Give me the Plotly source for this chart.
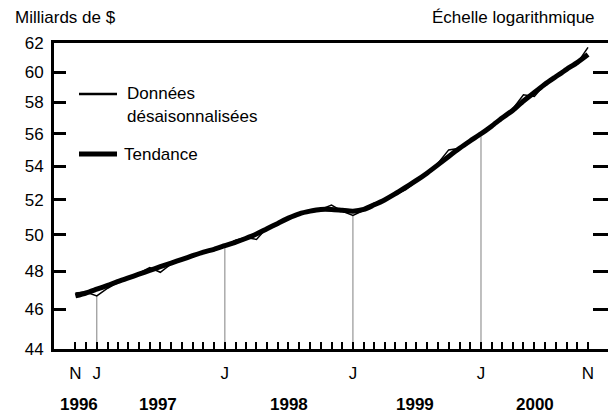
import math
import pandas as pd
import plotly.graph_objects as go

# ---- data ----
months = pd.date_range("1996-11-01", "2000-11-01", freq="MS")

trend = [46.70, 46.85, 47.05, 47.25, 47.45, 47.65, 47.85, 48.05, 48.25, 48.45,
         48.65, 48.85, 49.05, 49.20, 49.40, 49.60, 49.80, 50.05, 50.35, 50.65,
         50.95, 51.20, 51.35, 51.45, 51.45, 51.40, 51.35, 51.45, 51.70, 52.00,
         52.35, 52.75, 53.15, 53.60, 54.10, 54.60, 55.10, 55.55, 56.00, 56.50,
         57.00, 57.50, 58.10, 58.65, 59.20, 59.70, 60.20, 60.65, 61.20]

raw = [46.85, 46.90, 46.70, 47.10, 47.40, 47.60, 47.90, 48.20, 47.95, 48.40,
       48.60, 48.90, 49.10, 49.25, 49.35, 49.70, 49.85, 49.75, 50.40, 50.70,
       51.00, 51.20, 51.35, 51.45, 51.70, 51.35, 51.10, 51.40, 51.80, 52.00,
       52.30, 52.60, 53.10, 53.60, 54.20, 55.00, 55.10, 55.50, 56.00, 56.50,
       57.00, 57.60, 58.50, 58.40, 59.20, 59.70, 60.20, 60.60, 61.70]

y_ticks = [44, 46, 48, 50, 52, 54, 56, 58, 60, 62]
month_letters = {11: "N", 1: "J"}
year_labels = ["1996", "1997", "1998", "1999", "2000"]
year_label_pos = ["1996-11-12", "1997-06-23", "1998-07-04", "1999-06-28", "2000-06-03"]

FONT = "Liberation Sans, Arial, sans-serif"
FS = 17
ymin, ymax = 44, 62

fig = go.Figure()

# drop lines at January of each year (to the raw value)
for d, v in zip(months, raw):
    if d.month == 1:
        fig.add_trace(go.Scatter(x=[d, d], y=[ymin, v], mode="lines",
                                 line=dict(color="#808080", width=1),
                                 showlegend=False, hoverinfo="skip"))

fig.add_trace(go.Scatter(x=months, y=trend, mode="lines", name="Tendance",
                         line=dict(color="black", width=5, shape="spline", smoothing=0.6),
                         showlegend=False))
fig.add_trace(go.Scatter(x=months, y=raw, mode="lines", name="Données désaisonnalisées",
                         line=dict(color="black", width=1.5),
                         showlegend=False))
# invisible trace for right axis
fig.add_trace(go.Scatter(x=[months[0]], y=[trend[0]], yaxis="y2", mode="lines",
                         line=dict(width=0), showlegend=False, hoverinfo="skip"))

ticktext = [month_letters.get(d.month, "") if (d.month == 1 or d == months[0] or d == months[-1]) else ""
            for d in months]

fig.update_layout(
    width=608, height=413,
    margin=dict(l=54, r=0, t=43, b=64),
    paper_bgcolor="white", plot_bgcolor="white",
    font=dict(family=FONT, size=FS, color="black"),
    xaxis=dict(type="date", range=["1996-09-01", "2000-12-28"],
               tickvals=list(months), ticktext=ticktext,
               ticks="inside", ticklen=7, tickwidth=2, tickcolor="black",
               showline=True, linewidth=3, linecolor="black", mirror=True,
               showgrid=False, zeroline=False, ticklabelstandoff=7),
    yaxis=dict(type="log", range=[math.log10(ymin), math.log10(ymax)],
               tickvals=y_ticks, ticktext=[str(v) for v in y_ticks],
               ticks="inside", ticklen=12, tickwidth=3, tickcolor="black",
               showline=True, linewidth=3, linecolor="black",
               showgrid=False, zeroline=False, ticklabelstandoff=4),
    yaxis2=dict(type="log", range=[math.log10(ymin), math.log10(ymax)],
                overlaying="y", side="right", tickvals=y_ticks,
                ticks="inside", ticklen=15, tickwidth=3, tickcolor="black",
                showline=False, showticklabels=False, showgrid=False, zeroline=False),
)

def px_x(p):
    return (p - 54) / 554.0

def px_y(p):
    return (349 - p) / 306.0

anns = [
    dict(text="Milliards de $", x=px_x(13), y=px_y(17), xanchor="left", yanchor="middle"),
    dict(text="Échelle logarithmique", x=px_x(597), y=px_y(17), xanchor="right", yanchor="middle"),
    dict(text="Données", x=px_x(125), y=px_y(94), xanchor="left", yanchor="middle"),
    dict(text="désaisonnalisées", x=px_x(125), y=px_y(116), xanchor="left", yanchor="middle"),
    dict(text="Tendance", x=px_x(122), y=px_y(154), xanchor="left", yanchor="middle"),
]
for a in anns:
    a.update(xref="paper", yref="paper", showarrow=False, font=dict(family=FONT, size=FS))
    fig.add_annotation(**a)

for lab, pos in zip(year_labels, year_label_pos):
    fig.add_annotation(text="<b>" + lab + "</b>", x=pos, xref="x", y=px_y(404), yref="paper",
                       showarrow=False, xanchor="center", yanchor="middle",
                       font=dict(family=FONT, size=FS))

fig.add_shape(type="line", xref="paper", yref="paper", x0=px_x(79), x1=px_x(117),
              y0=px_y(94), y1=px_y(94), line=dict(color="black", width=2.5))
fig.add_shape(type="line", xref="paper", yref="paper", x0=px_x(79), x1=px_x(117),
              y0=px_y(154), y1=px_y(154), line=dict(color="black", width=5))

fig.write_html("out.html", config={"displayModeBar": False},
               post_script="document.body.style.margin='0';document.body.style.overflow='hidden';")
